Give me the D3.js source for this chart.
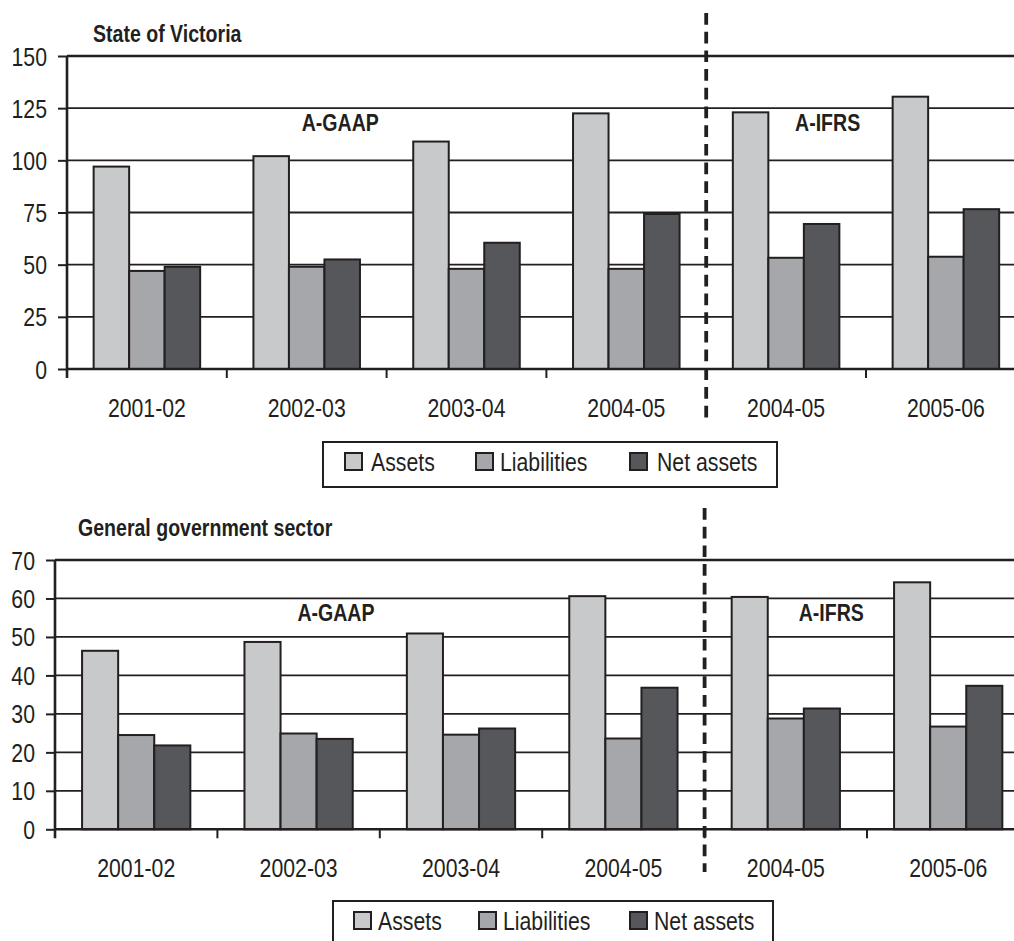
<!DOCTYPE html>
<html>
<head>
<meta charset="utf-8">
<script src="https://cdn.jsdelivr.net/npm/d3@7"></script>
<style>
  body { margin: 0; background: #fff; }
  svg { display: block; font-family: "Liberation Sans Narrow", "Arial Narrow", "Liberation Sans", Arial, sans-serif; }
  text { fill: #231f20; }
</style>
</head>
<body>
<div class="chart"></div>
<script>
// categories shared by both panels (2004-05 appears twice: A-GAAP and A-IFRS)
const categories = ['2001-02', '2002-03', '2003-04', '2004-05', '2004-05', '2005-06'];
const seriesNames = ['Assets', 'Liabilities', 'Net assets'];
const seriesColors = ['#c8c9cb', '#a6a7aa', '#55575a'];

// State of Victoria ($ billion)
const victoriaAssets = [97, 102, 109, 122.5, 123, 130.5];
const victoriaLiabilities = [47, 49, 48, 48, 53.3, 53.8];
const victoriaNetAssets = [49, 52.5, 60.5, 74.3, 69.5, 76.6];
const victoriaTicks = [0, 25, 50, 75, 100, 125, 150];

// General government sector ($ billion)
const ggsAssets = [46.4, 48.7, 50.9, 60.6, 60.4, 64.2];
const ggsLiabilities = [24.5, 24.9, 24.6, 23.6, 28.8, 26.7];
const ggsNetAssets = [21.8, 23.5, 26.2, 36.8, 31.4, 37.3];
const ggsTicks = [0, 10, 20, 30, 40, 50, 60, 70];

const regimeLabels = ['A-GAAP', 'A-IFRS'];

const width = 1014, height = 941;
const ink = '#231f20';
const condense = 0.85; // no narrow face installed, so squeeze the text instead

const svg = d3.select('.chart').append('svg')
  .attr('width', width)
  .attr('height', height);

drawPanel({
  title: 'State of Victoria',
  series: [victoriaAssets, victoriaLiabilities, victoriaNetAssets],
  ticks: victoriaTicks,
  left: 67, band: 159.8, top: 56, bottom: 369,
  titleX: 93, titleY: 42,
  notes: [{x: 1.71, y: 114}, {x: 4.76, y: 114}],
  dashTop: 13, dashBottom: 418,
  legend: {x: 323, y: 442, w: 454, h: 45, swatch: [22, 153, 307], text: [48, 177, 334]}
});

drawPanel({
  title: 'General government sector',
  series: [ggsAssets, ggsLiabilities, ggsNetAssets],
  ticks: ggsTicks,
  left: 55, band: 162.4, top: 560, bottom: 829.3,
  titleX: 78, titleY: 536,
  notes: [{x: 1.73, y: 54.1}, {x: 4.78, y: 54.1}],
  dashTop: 508, dashBottom: 872,
  legend: {x: 333, y: 901, w: 440, h: 46, swatch: [21, 146, 297], text: [45, 170, 321]}
});

// squeeze every label horizontally
svg.selectAll('text').each(function () {
  const len = this.getComputedTextLength();
  d3.select(this)
    .attr('textLength', len * condense)
    .attr('lengthAdjust', 'spacingAndGlyphs');
});

function drawPanel(p) {
  const g = svg.append('g');
  const right = p.left + p.band * categories.length;

  const x = d3.scaleBand()
    .domain(d3.range(categories.length))
    .range([p.left, right]);

  const x1 = d3.scaleBand()
    .domain(seriesNames)
    .range([0, x.bandwidth()])
    .paddingOuter(0.75);

  const y = d3.scaleLinear()
    .domain([0, d3.max(p.ticks)])
    .range([p.bottom, p.top]);

  // position along categories, used for the A-GAAP / A-IFRS notes
  const xi = d3.scaleLinear()
    .domain([0, categories.length])
    .range([p.left, right]);

  // gridlines
  g.append('g').selectAll('line')
    .data(p.ticks.slice(1))
    .join('line')
      .attr('x1', p.left)
      .attr('x2', right)
      .attr('y1', d => y(d))
      .attr('y2', d => y(d))
      .attr('stroke', ink)
      .attr('stroke-width', (d, i) => i === p.ticks.length - 2 ? 2.4 : 1.8);

  // bars
  const rows = categories.map((c, i) => seriesNames.map((s, k) => ({i, s, k, v: p.series[k][i]})));
  g.append('g').selectAll('g')
    .data(rows)
    .join('g')
      .attr('transform', (d, i) => `translate(${x(i)},0)`)
    .selectAll('rect')
    .data(d => d)
    .join('rect')
      .attr('x', d => x1(d.s))
      .attr('width', x1.bandwidth())
      .attr('y', d => y(d.v))
      .attr('height', d => y(0) - y(d.v))
      .attr('fill', d => seriesColors[d.k])
      .attr('stroke', ink)
      .attr('stroke-width', 2);

  // y axis
  const yAxis = g.append('g')
    .attr('transform', `translate(${p.left},0)`)
    .call(d3.axisLeft(y).tickValues(p.ticks).tickSize(9).tickPadding(11).tickSizeOuter(0));
  yAxis.select('.domain').remove();
  yAxis.selectAll('.tick line').attr('stroke', ink).attr('stroke-width', 2);
  yAxis.selectAll('.tick text')
    .attr('font-size', 25)
    .attr('fill', ink)
    .attr('dy', '0.36em');
  g.append('line')
    .attr('x1', p.left).attr('x2', p.left)
    .attr('y1', p.top).attr('y2', p.bottom + 9)
    .attr('stroke', ink)
    .attr('stroke-width', 2.6);

  // x axis: baseline, boundary ticks, centred labels
  const xAxis = g.append('g')
    .attr('transform', `translate(0,${p.bottom})`)
    .call(d3.axisBottom(x).tickSize(0).tickFormat(i => categories[i]));
  xAxis.select('.domain').remove();
  xAxis.selectAll('.tick text')
    .attr('font-size', 25)
    .attr('fill', ink)
    .attr('y', 48)
    .attr('dy', null);
  g.append('line')
    .attr('x1', p.left).attr('x2', right)
    .attr('y1', p.bottom).attr('y2', p.bottom)
    .attr('stroke', ink)
    .attr('stroke-width', 2.6);
  g.append('g').selectAll('line')
    .data(d3.range(1, categories.length))
    .join('line')
      .attr('x1', i => xi(i)).attr('x2', i => xi(i))
      .attr('y1', p.bottom).attr('y2', p.bottom + 9)
      .attr('stroke', ink)
      .attr('stroke-width', 2);

  // title
  g.append('text')
    .attr('x', p.titleX)
    .attr('y', p.titleY)
    .attr('font-size', 23)
    .attr('font-weight', 'bold')
    .text(p.title);

  // regime notes
  g.selectAll('.note')
    .data(p.notes)
    .join('text')
      .attr('class', 'note')
      .attr('x', d => xi(d.x))
      .attr('y', d => y(d.y))
      .attr('text-anchor', 'middle')
      .attr('font-size', 23)
      .attr('font-weight', 'bold')
      .text((d, i) => regimeLabels[i]);

  // dashed divider between A-GAAP and A-IFRS
  g.append('line')
    .attr('x1', xi(4)).attr('x2', xi(4))
    .attr('y1', p.dashTop).attr('y2', p.dashBottom)
    .attr('stroke', ink)
    .attr('stroke-width', 3.8)
    .attr('stroke-dasharray', '11.7,7');

  // legend
  const L = p.legend;
  const lg = g.append('g').attr('transform', `translate(${L.x},${L.y})`);
  lg.append('rect')
    .attr('width', L.w)
    .attr('height', L.h)
    .attr('fill', '#fff')
    .attr('stroke', ink)
    .attr('stroke-width', 2);
  seriesNames.forEach((s, k) => {
    lg.append('rect')
      .attr('x', L.swatch[k])
      .attr('y', 11)
      .attr('width', 17)
      .attr('height', 17)
      .attr('fill', seriesColors[k])
      .attr('stroke', ink)
      .attr('stroke-width', 2);
    lg.append('text')
      .attr('x', L.text[k])
      .attr('y', 29)
      .attr('font-size', 25)
      .text(s);
  });
}
</script>
</body>
</html>
